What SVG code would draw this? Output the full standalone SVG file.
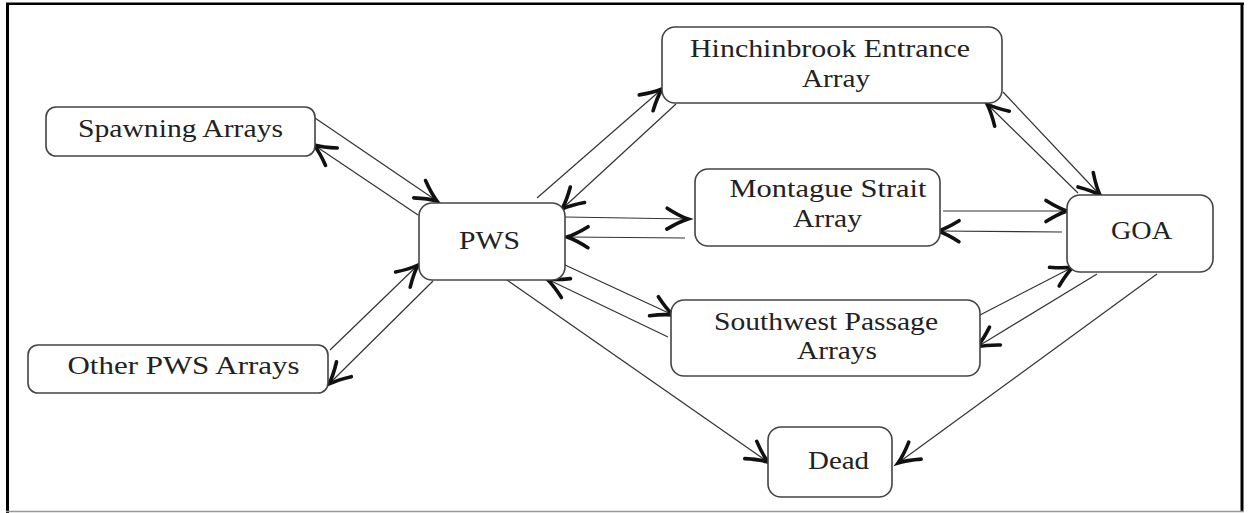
<svg xmlns="http://www.w3.org/2000/svg" width="1251" height="513" viewBox="0 0 1251 513">
<style>
.node rect{fill:#fff;stroke:#444;stroke-width:1.6}
.node text{font-family:"Liberation Serif",serif;font-size:25px;fill:#222;text-anchor:middle}
.edge{fill:none;stroke:#333;stroke-width:1.2;marker-end:url(#ah)}
</style>
<defs>
<marker id="ah" markerUnits="userSpaceOnUse" markerWidth="30" markerHeight="30" viewBox="-16 -10 20 20" refX="0" refY="0" orient="auto">
<path d="M-14,-7 Q-6,-2 0,0 Q-6,2 -14,7" fill="none" stroke="#111" stroke-width="2.4" stroke-linecap="round"/>
</marker>
</defs>
<rect x="0" y="0" width="1251" height="513" fill="#fff"/>
<g id="frame" fill="none">
<line x1="7.5" y1="3" x2="7.5" y2="513" stroke="#000" stroke-width="3"/>
<line x1="6" y1="3.7" x2="1244" y2="3.7" stroke="#000" stroke-width="2.5"/>
<line x1="1242" y1="3" x2="1242" y2="512" stroke="#000" stroke-width="3"/>
<line x1="6" y1="511.5" x2="1244" y2="511.5" stroke="#999" stroke-width="1.5"/>
</g>
<g id="connectors">
<line class="edge" x1="315" y1="118" x2="437" y2="201"/>
<line class="edge" x1="418" y1="215" x2="314" y2="145"/>
<line class="edge" x1="433" y1="281" x2="329" y2="384"/>
<line class="edge" x1="330" y1="350" x2="418" y2="265"/>
<line class="edge" x1="537" y1="198" x2="662" y2="89"/>
<line class="edge" x1="676" y1="104" x2="562" y2="209"/>
<line class="edge" x1="565" y1="217" x2="688" y2="219"/>
<line class="edge" x1="685" y1="238" x2="567" y2="237"/>
<line class="edge" x1="565" y1="265" x2="673" y2="315"/>
<line class="edge" x1="668" y1="337" x2="547" y2="279"/>
<line class="edge" x1="507" y1="280" x2="768" y2="462"/>
<line class="edge" x1="943" y1="211" x2="1067" y2="211"/>
<line class="edge" x1="1062" y1="232" x2="938" y2="231"/>
<line class="edge" x1="1003" y1="92" x2="1100" y2="195"/>
<line class="edge" x1="1078" y1="193" x2="987" y2="104"/>
<line class="edge" x1="980" y1="315" x2="1073" y2="267"/>
<line class="edge" x1="1097" y1="274" x2="977" y2="347"/>
<line class="edge" x1="1157" y1="274" x2="898" y2="463"/>
</g>
<g id="spawning" class="node"><rect x="46" y="107" width="269" height="49" rx="10"/><text x="180.5" y="137" textLength="205" lengthAdjust="spacingAndGlyphs">Spawning Arrays</text></g>
<g id="other" class="node"><rect x="28" y="345" width="300" height="48" rx="10"/><text x="183.5" y="374" textLength="232" lengthAdjust="spacingAndGlyphs">Other PWS Arrays</text></g>
<g id="pws" class="node"><rect x="419" y="203" width="146" height="77" rx="13"/><text x="489.5" y="249" textLength="61" lengthAdjust="spacingAndGlyphs">PWS</text></g>
<g id="hinchinbrook" class="node"><rect x="662" y="27" width="340" height="76" rx="13"/><text x="830" y="57" textLength="280" lengthAdjust="spacingAndGlyphs">Hinchinbrook Entrance</text><text x="836" y="87" textLength="68" lengthAdjust="spacingAndGlyphs">Array</text></g>
<g id="montague" class="node"><rect x="695" y="169" width="245" height="77" rx="13"/><text x="828" y="197" textLength="197" lengthAdjust="spacingAndGlyphs">Montague Strait</text><text x="827.5" y="227" textLength="69" lengthAdjust="spacingAndGlyphs">Array</text></g>
<g id="goa" class="node"><rect x="1067" y="195" width="146" height="77" rx="13"/><text x="1141.5" y="239" textLength="61" lengthAdjust="spacingAndGlyphs">GOA</text></g>
<g id="southwest" class="node"><rect x="671" y="300" width="309" height="76" rx="13"/><text x="826" y="330" textLength="224" lengthAdjust="spacingAndGlyphs">Southwest Passage</text><text x="837" y="359" textLength="80" lengthAdjust="spacingAndGlyphs">Arrays</text></g>
<g id="dead" class="node"><rect x="768" y="427" width="124" height="70" rx="13"/><text x="838.5" y="469" textLength="61" lengthAdjust="spacingAndGlyphs">Dead</text></g>
</svg>
